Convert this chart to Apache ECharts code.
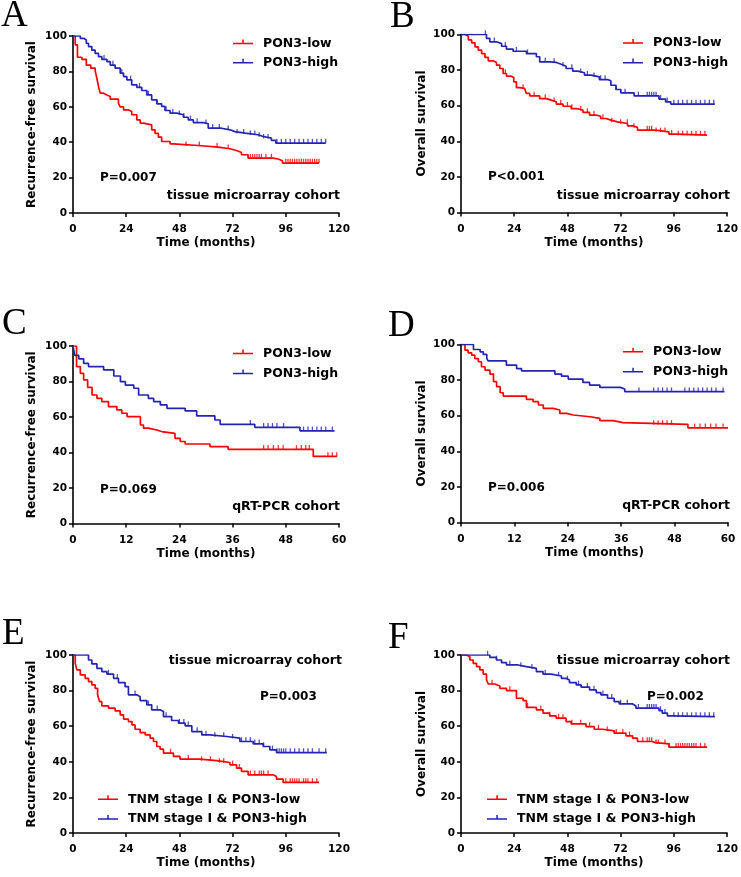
<!DOCTYPE html>
<html><head><meta charset="utf-8">
<script src="https://cdn.jsdelivr.net/npm/echarts@6/dist/echarts.min.js"></script>
<style>html,body{margin:0;padding:0;background:#fff}#c{width:741px;height:877px}</style>
</head><body><div id="c"></div>
<script>
// ---------- text / ticks ----------
const panelLetters = ['A','B','C','D','E','F'];
const yTitles = ['Recurrence-free survival','Overall survival','Recurrence-free survival','Overall survival','Recurrence-free survival','Overall survival'];
const xTitle = 'Time (months)';
const xTicksLong = [0,24,48,72,96,120];
const xTicksShort = [0,12,24,36,48,60];
const yTicks = [0,20,40,60,80,100];
const legendPON3 = ['PON3-low','PON3-high'];
const legendTNM = ['TNM stage I & PON3-low','TNM stage I & PON3-high'];
const pValues = ['P=0.007','P<0.001','P=0.069','P=0.006','P=0.003','P=0.002'];
const cohortNames = ['tissue microarray cohort','tissue microarray cohort','qRT-PCR cohort','qRT-PCR cohort','tissue microarray cohort','tissue microarray cohort'];

// ---------- survival curves: [time, survival %] ----------
const A_low = [[0,100],[1,95],[2,88],[4,86.8],[6,83.6],[8,81.8],[10,80.3],[10.8,76],[11.5,71.4],[12.3,67.7],[13.8,66.7],[15.3,65.8],[16.8,64.3],[20.5,62],[21.3,60],[22.8,58.3],[25,57.3],[26.5,55.5],[28.8,52.6],[30.3,50.8],[31.8,49.8],[35.5,47],[37,45],[38.5,42.9],[40,40.4],[43.8,39.1],[45.3,38],[58,37.2],[65.5,36.3],[70.8,35.3],[73.8,34.2],[76,32.9],[79,31],[90.3,30.5],[92.5,29.5],[94.5,28.2],[111,28.2]];
const A_low_censor = [51,57,65,70,80,81,82,83,84,85,87,89.5,96,97,98,99,100,101,102,103,104,105,106,107,108,109,110,111];
const A_high = [[0,100],[3.3,98.7],[4.8,97.7],[6,95.9],[7,94],[8.5,92],[10,90.2],[11.5,88.3],[13,86.8],[15.3,85.5],[16.8,83.6],[19,81.8],[21.3,79],[22.8,77.1],[24.3,75.2],[26.5,72.4],[28.8,71],[31,69.2],[33.3,66.7],[35.5,63.9],[37.8,61.7],[40,60.2],[41.5,57.9],[43.8,56.4],[46.8,55.5],[49.8,54.1],[52,52.6],[54.3,51.1],[58.8,50.4],[61,47.9],[67,47],[70.8,46],[73,45.1],[77.6,44.2],[83.5,43.2],[85.8,42.3],[89.5,41],[91.5,39.5],[114,39.5]];
const A_high_censor = [14,18,22,26,30,34,38,42,45,48,50,53,56,60,63,66,70,74,77,80,82,84,86,88,92,94,96,98,100,102,104,106,108,110,112,114];

const B_low = [[0,100],[1.8,99],[3.3,97],[4.8,95.3],[6.3,93.1],[7.8,91.2],[9.3,89.3],[10.8,87.1],[12.3,85.2],[14.5,84.3],[16,82.8],[17.5,80.9],[19,78.1],[20.5,76.6],[22.7,75.8],[23.8,73.4],[25,70.2],[26.5,69.7],[28.7,68.7],[29.5,66.9],[31,65.5],[35.5,64],[38.5,63.1],[40.7,62.2],[43,60.9],[46,59.7],[49.7,58.4],[52,57.5],[55,56.2],[58,54.7],[61,54.1],[63,52.8],[65.4,51.9],[67.6,50.9],[70.6,50],[75.1,48.7],[77.4,47.8],[79.6,46.3],[87.8,45.3],[93.8,44],[97,43.5],[111,43.5]];
const B_low_censor = [20,28,33,38,42,45,48,50,54,57,60,64,68,72,75,78,84,85,86,88,90,92,95,98,100,102,104,106,108,110];
const B_high = [[0,100],[11.5,97.8],[13,95.9],[16,94.9],[18.3,93.4],[20.5,91.8],[23.5,90.6],[29.5,89.3],[34,87.5],[35.5,84.6],[40,84.3],[43,83.3],[45.2,82.2],[47.4,80.9],[50.4,79.4],[52.7,78.5],[55.7,77.2],[58.7,76.2],[62.4,74.7],[66.1,74],[67.6,71.5],[69.9,69.1],[72.1,67.2],[78.1,65.5],[89.3,63.7],[92.3,62.2],[94.6,60.9],[114.5,60.9]];
const B_high_censor = [11,15,20,25,30,38,42,46,50,54,57,60,63,65,70,74,80,84,85,86,87,88,90,93,96,98,100,102,104,106,108,110,112,114];

const C_low = [[0,100],[0.8,88.4],[1.65,84.6],[2.4,80.9],[3.3,76.7],[4.3,72.4],[5.4,70.5],[6.5,68.7],[8,65.9],[9.9,64],[11,62.1],[12.2,60.2],[15.2,55.5],[15.9,53.7],[17,52.7],[18.9,51.8],[20,50.8],[23,48],[24.2,46.2],[25.3,44.8],[30.9,43.3],[35,41.8],[54.2,37.8],[59.5,37.8]];
const C_low_censor = [43,44,45.2,46.3,47.4,50.4,51.5,52.5,53.3,57.5,58.5,59.5];
const C_high = [[0,100],[0.4,94.7],[1.3,92.8],[2.4,90.2],[3.5,88.4],[6.9,86.5],[9.2,83.1],[10.7,79.9],[11.8,78],[13.7,76.2],[14.8,72.4],[17,70.5],[18.2,68.7],[19.7,66.8],[21.2,64.9],[25.3,63.4],[27.9,60.6],[32,58.3],[33.2,55.9],[41,54.2],[51.2,52.2],[59,52.2]];
const C_high_censor = [40,43,44,45,46,47.5,52,53,54,55,56,57,58.5];

const D_low = [[0,100],[0.9,96.8],[1.6,95.3],[2.4,94],[3.1,92.1],[3.9,90.3],[4.6,87.5],[5.4,85.6],[6.5,83.4],[7.3,79.1],[8,76.3],[8.8,72.9],[9.5,71],[14.7,69.2],[16.2,67.9],[17.4,66],[18.5,64.1],[20.7,63.2],[22.2,61.3],[23.7,60.4],[25.2,59.4],[29,58.5],[31.2,57.2],[34.2,56.1],[36.4,55.1],[51,53.2],[60,53.2]];
const D_low_censor = [43.3,44.3,45.3,46.3,47.3,52.5,53.7,54.9,56.1,57.3,58.9];
const D_high = [[0,100],[2.8,97.2],[4.3,95.9],[5,94.4],[5.8,92.1],[6.1,90.8],[10.2,88.4],[12.5,86.5],[13.6,85.2],[21.1,83.4],[22.6,82.2],[24.1,80.6],[27.4,78.7],[28.9,77.2],[31.2,75.9],[35.8,75],[36.8,73.5],[59.2,73.5]];
const D_high_censor = [40,43.3,44.3,45.3,46.3,47.3,50.3,51.3,52.3,53.3,54.3,55.3,56.3,57.3,58.9];

const E_low = [[0,100],[1,95.3],[1.8,91.6],[3.3,88.8],[5.5,86.9],[7,85],[8.5,83.2],[10,81.3],[11.1,77.6],[12,73.8],[13,71.4],[16,70.1],[19,68.6],[21.3,66.4],[22.8,64],[25,62.6],[26.6,60.7],[28,58.3],[30.3,56.4],[32.6,55.1],[34.8,53.3],[36.3,51.4],[37.8,48.6],[39.3,47.1],[40.8,44.9],[45.3,43],[48.3,41.5],[57.3,40.7],[64.8,39.6],[70.8,38.3],[73.8,36.4],[76,34.6],[79,32.7],[90.3,31.8],[91.8,30.3],[94.8,28.4],[111,28.4]];
const E_low_censor = [44,52,58,62,66,68,72,75,80,82,84,85,86,88,96,98,99,100,101,102,104,105,106,108,110];
const E_high = [[0,100],[7,97.2],[8.5,95],[10.8,92.5],[13,90.7],[15.3,89.3],[18.3,86.9],[20.5,84.5],[23.5,82.2],[25,77.6],[28.8,76.6],[30.3,74.4],[33.3,72],[35.5,69.2],[39.3,68.2],[40.8,65.4],[44.5,63.2],[47.6,61.7],[50.6,60.2],[53.6,57],[58.1,55.1],[61.8,54.2],[69.3,53.3],[75.3,51.4],[81.3,50.1],[85.8,48.6],[88.8,46.7],[91.8,45.2],[114.5,45.2]];
const E_high_censor = [16,20,28,34,38,42,48,50,52,56,60,64,68,72,76,78,80,82,84,86,90,92,93,94,95,96,98,100,102,104,106,108,111,114];

const F_low = [[0,100],[2.5,99],[4,97.2],[5.5,95.3],[7,93.5],[8.5,91.6],[10,89.3],[11.5,86],[12.3,83.7],[15.3,82.6],[17.5,81.3],[20.5,80],[25,75.7],[28,74.4],[29.5,70.6],[34,69.2],[37,67.3],[40,65.8],[42.9,64.5],[47.4,62.6],[49.7,61.3],[56.4,59.8],[60.1,58.3],[63.9,57.4],[69.1,56.1],[74.4,54.6],[77.4,53.3],[79.6,51.4],[86.3,50.8],[87.8,50.1],[93.8,48.2],[111,48.2]];
const F_low_censor = [14,22,30,36,40,44,46,50,54,58,62,66,70,73,76,82,84,85,86,88,89,92,94,97,98,99,100,101,102,103,104,105,106,108,110];
const F_high = [[0,100],[13,98.7],[16,97.2],[18.3,95.7],[20.5,94.4],[25.7,93.5],[29.5,92.5],[34,90.7],[37,89.3],[40.7,88.2],[45.3,86.9],[47.4,86],[48.9,84.5],[52,83.2],[54.2,81.9],[58,80.4],[61,78.9],[63.1,77.6],[66.1,75.7],[69.1,73.8],[71.4,72.5],[77.4,71.4],[78.9,70.1],[89.3,68.8],[90.8,67.3],[93.1,65.8],[95,65.4],[114.5,65.4]];
const F_high_censor = [12,16,22,27,32,38,44,48,53,57,60,64,68,72,75,80,84,85,86,87,88,90,92,96,98,100,102,104,106,108,110,112,114];

// ---------- assembly ----------
const RED = '#FF0000', BLUE = '#2424B4', FONT = 'DejaVu Sans';
const panels = [
  {low:A_low, lowC:A_low_censor, high:A_high, highC:A_high_censor, ticks:xTicksLong, names:legendPON3},
  {low:B_low, lowC:B_low_censor, high:B_high, highC:B_high_censor, ticks:xTicksLong, names:legendPON3},
  {low:C_low, lowC:C_low_censor, high:C_high, highC:C_high_censor, ticks:xTicksShort, names:legendPON3},
  {low:D_low, lowC:D_low_censor, high:D_high, highC:D_high_censor, ticks:xTicksShort, names:legendPON3},
  {low:E_low, lowC:E_low_censor, high:E_high, highC:E_high_censor, ticks:xTicksLong, names:legendTNM},
  {low:F_low, lowC:F_low_censor, high:F_high, highC:F_high_censor, ticks:xTicksLong, names:legendTNM}
];
// layout (pixels)
const gridBoxes = [
  {left:73, top:36, width:266, height:177},
  {left:461, top:34.5, width:267, height:178},
  {left:73, top:346, width:266, height:177.5},
  {left:461, top:344.5, width:267, height:178},
  {left:73, top:655, width:266, height:178},
  {left:461, top:655, width:267, height:178}
];
const yNameGaps = [35,33.5,35,33.5,35,33.5];
const legendPos = [
  {left:233, top:36.5, gap:5.3},
  {left:623, top:36, gap:5.6},
  {left:233, top:346.5, gap:6},
  {left:623, top:344.7, gap:6},
  {left:98, top:792.3, gap:5.7},
  {left:487, top:792.3, gap:5.7}
];
const letterPos = [[1,16.5],[390,17],[2,324.5],[388,326],[2,634.5],[388,638]];
const pPos = [[100,178,'left'],[488,177,'left'],[100,489.5,'left'],[488,487.5,'left'],[260,697,'left'],[647,697,'left']];
const cohortPos = [[340,195.5],[730,196],[340,507],[730,506],[342,661],[730,661]];

function survivalAt(curve, t){ let v = curve[0][1]; for (const p of curve){ if (p[0] <= t) v = p[1]; } return v; }
const ICON = 'path://M0,0M25,14M0,6.3h20v1.5h-20zM9.3,3h1.5v4h-1.5z';
const labelStyle = {fontFamily:FONT, fontWeight:'bold', color:'#000'};

const grid=[], xAxis=[], yAxis=[], series=[], legend=[], graphic=[];
panels.forEach((p,i)=>{
  grid.push(Object.assign({containLabel:false}, gridBoxes[i]));
  xAxis.push({gridIndex:i, type:'value', min:p.ticks[0], max:p.ticks[p.ticks.length-1], interval:p.ticks[1]-p.ticks[0],
    name:xTitle, nameLocation:'middle', nameGap:24, nameTextStyle:Object.assign({fontSize:12}, labelStyle),
    axisLine:{show:true, onZero:false, lineStyle:{color:'#000', width:1.6}},
    axisTick:{show:true, length:4, lineStyle:{color:'#000', width:1.5}},
    splitLine:{show:false},
    axisLabel:Object.assign({fontSize:10.5, margin:11}, labelStyle)});
  yAxis.push({gridIndex:i, type:'value', min:yTicks[0], max:yTicks[yTicks.length-1], interval:yTicks[1]-yTicks[0],
    name:yTitles[i], nameLocation:'middle', nameGap:yNameGaps[i], nameTextStyle:Object.assign({fontSize:12}, labelStyle),
    axisLine:{show:true, lineStyle:{color:'#000', width:1.6}},
    axisTick:{show:true, length:4, lineStyle:{color:'#000', width:1.5}},
    splitLine:{show:false},
    axisLabel:Object.assign({fontSize:10.5, margin:6}, labelStyle)});
  [[p.low,p.lowC,RED,p.names[0]],[p.high,p.highC,BLUE,p.names[1]]].forEach(([curve,cens,col,nm])=>{
    series.push({type:'line', name:nm, xAxisIndex:i, yAxisIndex:i, data:curve, step:'end', symbol:'none', showSymbol:false,
      lineStyle:{color:col, width:1.7}, itemStyle:{color:col}, animation:false, silent:true});
    series.push({type:'scatter', name:'censor-'+i+'-'+nm, xAxisIndex:i, yAxisIndex:i,
      data:cens.map(t=>[t, survivalAt(curve,t)]), symbol:'rect', symbolSize:[1.3,4.5], symbolOffset:[0,-2],
      itemStyle:{color:col}, animation:false, silent:true});
  });
  const lp = legendPos[i];
  legend.push({left:lp.left, top:lp.top, orient:'vertical', itemWidth:25, itemHeight:14, itemGap:lp.gap, padding:0,
    icon:ICON, data:p.names, selectedMode:false,
    textStyle:Object.assign({fontSize:12.5, lineHeight:14}, labelStyle)});
  graphic.push({type:'text', x:letterPos[i][0], y:letterPos[i][1],
    style:{text:panelLetters[i], font:'37px "Liberation Serif"', fill:'#000', align:'left', verticalAlign:'middle', textAlign:'left', textVerticalAlign:'middle'}});
  graphic.push({type:'text', x:pPos[i][0], y:pPos[i][1],
    style:{text:pValues[i], font:'bold 12px "DejaVu Sans"', fill:'#000', align:'left', verticalAlign:'middle', textAlign:'left', textVerticalAlign:'middle'}});
  graphic.push({type:'text', x:cohortPos[i][0], y:cohortPos[i][1],
    style:{text:cohortNames[i], font:'bold 12.5px "DejaVu Sans"', fill:'#000', align:'right', verticalAlign:'middle', textAlign:'right', textVerticalAlign:'middle'}});
});

const chart = echarts.init(document.getElementById('c'), null, {renderer:'canvas'});
chart.setOption({animation:false, backgroundColor:'#fff', grid, xAxis, yAxis, series, legend, graphic});
</script></body></html>
